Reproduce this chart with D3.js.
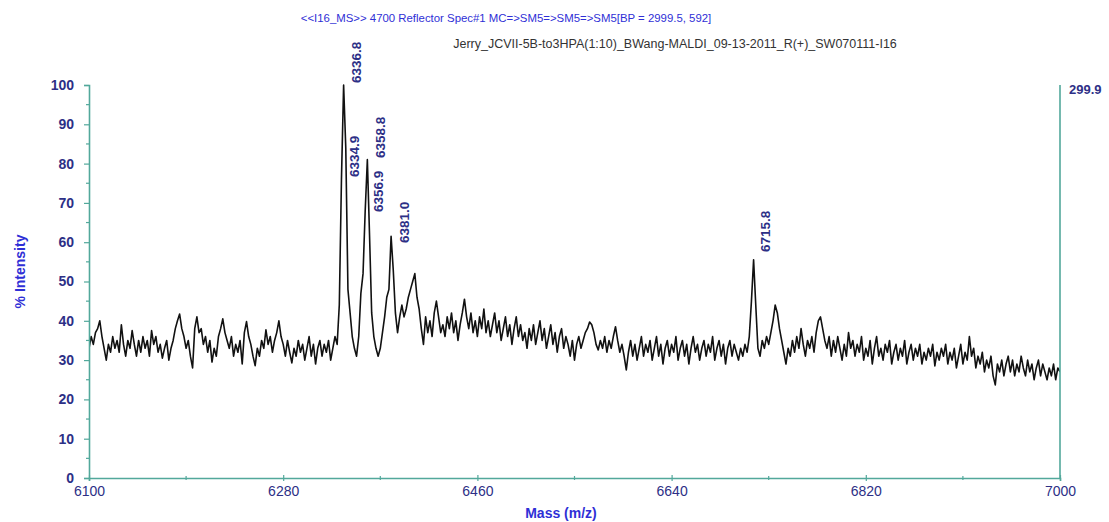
<!DOCTYPE html>
<html>
<head>
<meta charset="utf-8">
<script src="https://cdn.jsdelivr.net/npm/d3@7"></script>
<style>
  html, body { margin: 0; padding: 0; background: #fff; }
  svg { display: block; }
</style>
</head>
<body>
<svg id="chart" width="1109" height="522"></svg>
<script>
// ---------------- DATA ----------------
const titleLine1 = "<<I16_MS>> 4700 Reflector Spec#1 MC=>SM5=>SM5=>SM5[BP = 2999.5, 592]";
const titleLine2 = "Jerry_JCVII-5B-to3HPA(1:10)_BWang-MALDI_09-13-2011_R(+)_SW070111-I16";
const xAxisTitle = "Mass (m/z)";
const yAxisTitle = "% Intensity";
const rightAxisLabel = "299.9";

const massDomain = [6100, 7000];
const intensityDomain = [0, 100];
const xTickValues = [6100, 6280, 6460, 6640, 6820, 7000];
const xMinorTicks = [6190, 6370, 6550, 6730, 6910];
const yTickValues = [0, 10, 20, 30, 40, 50, 60, 70, 80, 90, 100];
const yMinorTicks = [5, 15, 25, 35, 45, 55, 65, 75, 85, 95];

const massStart = 6100;
const massStep = 2;
const intensity = [
  // 6100
  33, 36, 34, 37, 38, 40, 36, 33, 30, 34,
  // 6120
  32, 36, 33, 35, 32, 39, 34, 31, 35, 33,
  // 6140
  37.5, 34, 31, 35, 32, 36, 33, 35, 31, 37.5,
  // 6160
  34, 36, 32, 34, 30.5, 33, 35, 30, 33, 35,
  // 6180
  38, 40, 41.7, 38, 36, 33, 35, 31, 28, 38,
  // 6200
  41, 37, 38, 34, 36, 32, 35, 29.5, 33, 31,
  // 6220
  36, 38, 40.5, 37, 35, 33, 36, 31, 34, 32,
  // 6240
  35, 29, 37, 39.8, 36, 34, 31, 28.6, 33, 31,
  // 6260
  35, 33, 37.7, 34, 36, 32, 35, 37, 40, 36,
  // 6280
  34, 31, 35, 32, 29.3, 33, 31, 35, 32, 34,
  // 6300
  30, 33, 36, 31, 34, 29, 33, 35, 31, 34,
  // 6320
  32, 35, 30, 33, 36, 34, 44, 76, 100, 84,
  // 6340
  48, 42, 36, 33, 31, 36, 47, 52, 68, 81,
  // 6360
  62, 42, 36, 33, 31, 33, 37, 41, 46, 48,
  // 6380
  61.5, 53, 42, 37, 41, 44, 41, 43, 46, 48,
  // 6400
  50, 52, 46, 43, 38, 34, 41, 37, 40, 36,
  // 6420
  42, 45, 41, 37, 39, 36, 41, 38, 42, 37,
  // 6440
  40, 35, 39, 42, 45.5, 41, 38, 42, 37, 40,
  // 6460
  36, 41, 38, 43, 37, 40, 36, 39, 42, 37,
  // 6480
  40, 35, 38, 41, 36, 39, 34, 38, 41, 36,
  // 6500
  39, 35, 37, 33, 38, 35, 39, 34, 37, 40,
  // 6520
  35, 38, 33, 36, 39, 34, 37, 32, 36, 38,
  // 6540
  33, 36, 34, 31, 35, 30, 34, 36, 33, 35,
  // 6560
  37, 38, 39.7, 39, 37, 34, 32.6, 35, 33, 36,
  // 6580
  32, 35, 33, 36, 38.5, 35, 32, 34, 31, 27.5,
  // 6600
  32, 35, 31, 34, 30, 33, 36, 31, 34, 32,
  // 6620
  35, 30, 33, 36, 31, 34, 29, 33, 35, 31,
  // 6640
  34, 32, 36, 30, 33, 35, 31, 34, 29, 33,
  // 6660
  36, 32, 34, 30, 33, 35, 31, 34, 32, 36,
  // 6680
  30, 33, 35, 31, 34, 29, 33, 35, 31, 34,
  // 6700
  32, 30, 33, 31, 34, 32, 36, 45, 55.5, 44,
  // 6720
  33, 31, 35, 33, 36, 34, 37, 40, 44, 42,
  // 6740
  38, 35, 32, 29, 33, 31, 35, 32, 36, 33,
  // 6760
  38, 34, 31, 35, 33, 36, 32, 37, 40, 41,
  // 6780
  38, 35, 33, 36, 31, 35, 32, 36, 33, 30,
  // 6800
  34, 31, 37, 33, 35, 31, 34, 32, 36, 30,
  // 6820
  33, 31, 35, 29, 33, 36, 31, 33, 30, 34,
  // 6840
  32, 35, 29, 32, 34, 30, 33, 31, 35, 29,
  // 6860
  32, 34, 30, 33, 31, 34, 29, 32, 30, 33,
  // 6880
  31, 34, 28.5, 32, 30, 33, 31, 34, 29, 32,
  // 6900
  30, 33, 28, 31, 34, 29, 32, 30, 36, 31,
  // 6920
  33, 28, 31, 29, 32, 27, 30, 28, 31, 26,
  // 6940
  23.7, 29, 27, 30, 26, 29, 31, 27, 30, 26,
  // 6960
  29, 27, 31, 28, 26, 30, 27, 29, 25, 28,
  // 6980
  30, 26, 29, 27, 25, 28, 26, 29, 25, 28,
  // 7000
  27
];

// peak annotations: label text, peak mass, intensity at which label starts
const peakLabels = ["6336.8", "6334.9", "6358.8", "6356.9", "6381.0", "6715.8"];
const peakMasses = [6336.8, 6334.9, 6358.8, 6356.9, 6381.0, 6715.8];
const peakLevels = [100.5, 76.6, 81.4, 67.7, 59.8, 57.5];

// ---------------- DRAW ----------------
const W = 1109, H = 522;
const margin = { left: 89, right: 49, top: 85, bottom: 44 };
const axisColor = "#52a89b";
const tickTextColor = "#2d2f86";
const titleBlue = "#2f2fd6";

const svg = d3.select("#chart");

const x = d3.scaleLinear().domain(massDomain).range([margin.left, W - margin.right]);
const y = d3.scaleLinear().domain(intensityDomain).range([H - margin.bottom, margin.top]);

const points = intensity.map((v, i) => ({ m: massStart + i * massStep, v }));

// titles
svg.append("text")
  .attr("x", 506).attr("y", 22)
  .attr("text-anchor", "middle")
  .attr("font-family", "Liberation Sans, Arial, sans-serif")
  .attr("font-size", 11.4)
  .attr("fill", titleBlue)
  .text(titleLine1);

svg.append("text")
  .attr("x", 675).attr("y", 48)
  .attr("text-anchor", "middle")
  .attr("font-family", "Liberation Sans, Arial, sans-serif")
  .attr("font-size", 12.5)
  .attr("fill", "#333")
  .text(titleLine2);

// clip
svg.append("defs").append("clipPath").attr("id", "plotclip")
  .append("rect")
  .attr("x", margin.left).attr("y", margin.top - 5)
  .attr("width", W - margin.left - margin.right)
  .attr("height", H - margin.top - margin.bottom + 5);

// spectrum
const line = d3.line().x(d => x(d.m)).y(d => y(d.v));
svg.append("path")
  .datum(points)
  .attr("clip-path", "url(#plotclip)")
  .attr("fill", "none")
  .attr("stroke", "#111")
  .attr("stroke-width", 1.6)
  .attr("stroke-linejoin", "round")
  .attr("d", line);

// Y axis (left)
const yAxis = d3.axisLeft(y).tickValues(yTickValues).tickSize(5).tickFormat(d3.format("d"));
const gy = svg.append("g").attr("transform", `translate(${margin.left},0)`).call(yAxis);
gy.select(".domain").attr("stroke", axisColor).attr("stroke-width", 1.6);
gy.selectAll(".tick line").attr("stroke", axisColor).attr("stroke-width", 1.2);
gy.selectAll(".tick text")
  .attr("x", -15)
  .attr("fill", tickTextColor)
  .attr("font-family", "Liberation Sans, Arial, sans-serif")
  .attr("font-weight", "bold")
  .attr("font-size", 14);
gy.selectAll(".minor")
  .data(yMinorTicks).enter().append("line")
  .attr("x1", -3).attr("x2", 0)
  .attr("y1", d => y(d)).attr("y2", d => y(d))
  .attr("stroke", axisColor).attr("stroke-width", 1.2);

// Right axis
svg.append("line")
  .attr("x1", x(massDomain[1])).attr("x2", x(massDomain[1]))
  .attr("y1", y(intensityDomain[1])).attr("y2", y(0))
  .attr("stroke", axisColor).attr("stroke-width", 1.6);
svg.append("text")
  .attr("x", x(massDomain[1]) + 9).attr("y", y(intensityDomain[1]) + 9)
  .attr("font-family", "Liberation Sans, Arial, sans-serif")
  .attr("font-weight", "bold")
  .attr("font-size", 13)
  .attr("fill", tickTextColor)
  .text(rightAxisLabel);

// X axis
const xAxis = d3.axisBottom(x).tickValues(xTickValues).tickSize(3).tickFormat(d3.format("d"));
const gx = svg.append("g").attr("transform", `translate(0,${y(0)})`).call(xAxis);
gx.select(".domain").attr("stroke", axisColor).attr("stroke-width", 1.6);
gx.selectAll(".tick line").attr("y1", -3).attr("stroke", axisColor).attr("stroke-width", 1.2);
gx.selectAll(".tick text")
  .attr("y", 8)
  .attr("fill", tickTextColor)
  .attr("font-family", "Liberation Sans Narrow, Liberation Sans, Arial, sans-serif")
  .attr("font-size", 14);
gx.selectAll(".minor")
  .data(xMinorTicks).enter().append("line")
  .attr("x1", d => x(d)).attr("x2", d => x(d))
  .attr("y1", -2).attr("y2", 2)
  .attr("stroke", axisColor).attr("stroke-width", 1.2);

// Axis titles
svg.append("text")
  .attr("x", 561).attr("y", 518)
  .attr("text-anchor", "middle")
  .attr("font-family", "Liberation Sans, Arial, sans-serif")
  .attr("font-weight", "bold")
  .attr("font-size", 14)
  .attr("fill", titleBlue)
  .text(xAxisTitle);

svg.append("text")
  .attr("transform", `translate(25,${(y(0) + y(100)) / 2 - 10}) rotate(-90)`)
  .attr("text-anchor", "middle")
  .attr("font-family", "Liberation Sans, Arial, sans-serif")
  .attr("font-weight", "bold")
  .attr("font-size", 14)
  .attr("fill", titleBlue)
  .text(yAxisTitle);

// Peak labels (rotated)
svg.selectAll(".peaklabel")
  .data(peakLabels.map((t, i) => ({ t, m: peakMasses[i], v: peakLevels[i] })))
  .enter().append("text")
  .attr("class", "peaklabel")
  .attr("transform", d => `translate(${x(d.m) + 17},${y(d.v)}) rotate(-90)`)
  .attr("font-family", "Liberation Sans, Arial, sans-serif")
  .attr("font-weight", "bold")
  .attr("font-size", 13.5)
  .attr("fill", tickTextColor)
  .text(d => d.t);
</script>
</body>
</html>
